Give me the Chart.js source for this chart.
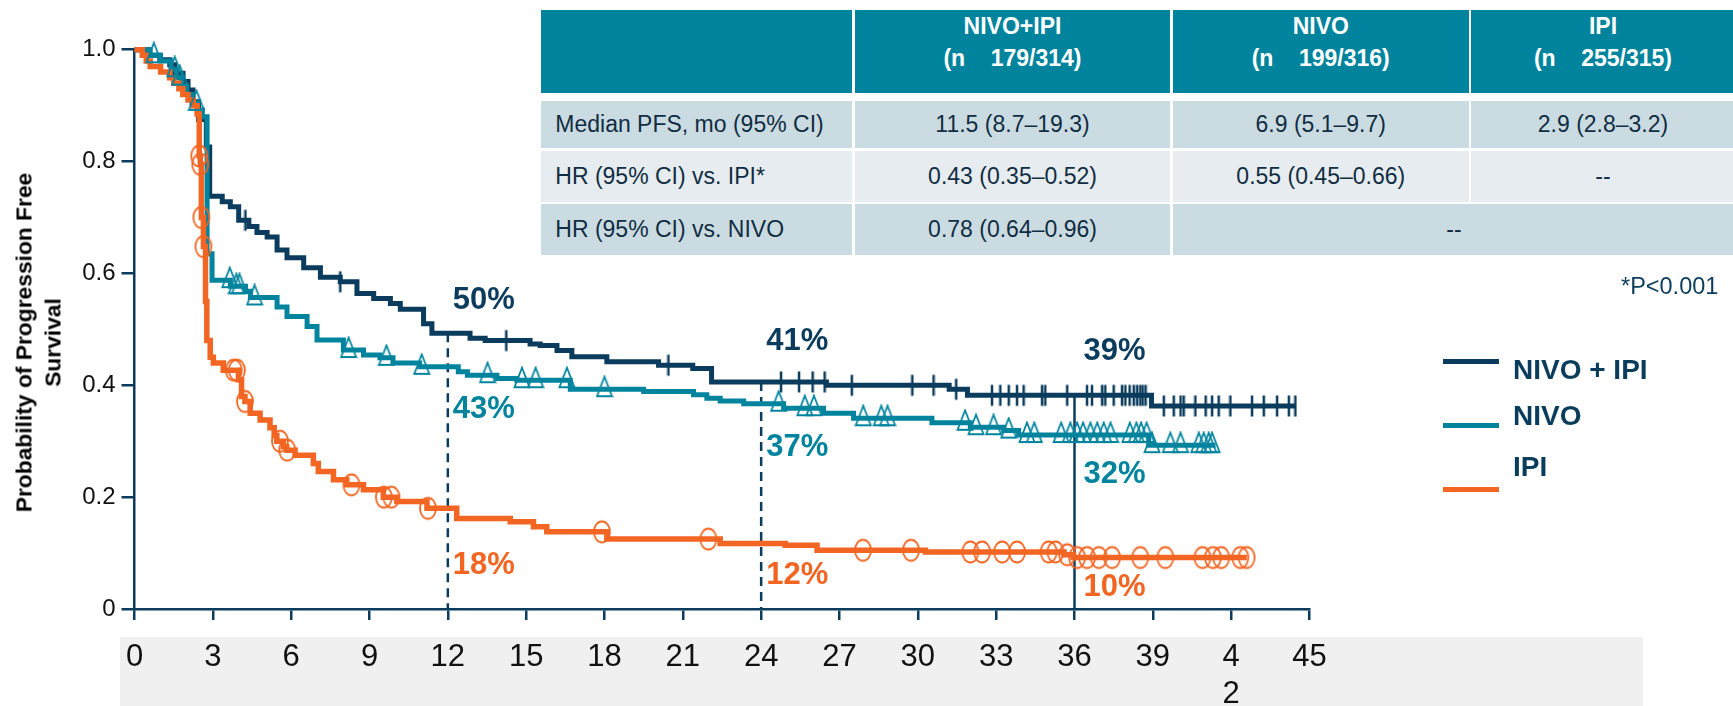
<!DOCTYPE html>
<html>
<head>
<meta charset="utf-8">
<script src="https://cdn.jsdelivr.net/npm/chart.js@4.4.0/dist/chart.umd.min.js"></script>
<style>
html,body{margin:0;padding:0;background:#fff;}
#wrap{position:relative;width:1733px;height:706px;overflow:hidden;font-family:'Liberation Sans',Arial,sans-serif;}
#band{position:absolute;left:120px;top:637px;width:1523px;height:69px;background:#f0f0f0;z-index:0;}
#c{position:absolute;left:0;top:0;z-index:1;}
.cell{position:absolute;box-sizing:border-box;white-space:pre;display:flex;align-items:center;justify-content:center;font-size:23px;color:#112d42;}
.hd{background:#00849e;color:#fff;font-weight:bold;flex-direction:column;justify-content:flex-start;font-size:23px;}
.hd div{line-height:32px;height:32px;}
.r1{background:#cbdbe2;}
.r2{background:#e6ecef;}
.left{justify-content:flex-start;padding-left:14.6px;}
.lgline{position:absolute;height:5px;width:56px;left:1443px;z-index:2;}
.lgtxt{position:absolute;left:1513px;font-size:28px;line-height:28px;font-weight:bold;color:#0a3d5c;white-space:pre;z-index:2;}
#pnote{position:absolute;left:1621px;top:275px;font-size:23.5px;line-height:23.5px;color:#0a3d5c;white-space:pre;z-index:2;}
#ytitle{position:absolute;left:-161.75px;top:314px;width:400px;height:57px;transform:rotate(-90deg);transform-origin:50% 50%;
  text-align:center;font-size:22.8px;line-height:28.5px;font-weight:bold;color:#000;white-space:nowrap;z-index:2;}
</style>
</head>
<body>
<div id="wrap">
  <div id="band"></div>
  <canvas id="c" width="1733" height="706"></canvas>
  <div id="ytitle">Probability of Progression Free<br>Survival</div>

  <!-- table -->
  <div class="cell hd" style="left:540.7px;top:10px;width:311.6px;height:82.7px;"></div>
  <div class="cell hd" style="left:855px;top:10px;width:315px;height:82.7px;"><div>NIVO+IPI</div><div>(n    179/314)</div></div>
  <div class="cell hd" style="left:1173px;top:10px;width:295.5px;height:82.7px;"><div>NIVO</div><div>(n    199/316)</div></div>
  <div class="cell hd" style="left:1471px;top:10px;width:264px;height:82.7px;"><div>IPI</div><div>(n    255/315)</div></div>

  <div class="cell r1 left" style="left:540.7px;top:100.7px;width:311.6px;height:47px;">Median PFS, mo (95% CI)</div>
  <div class="cell r1" style="left:855px;top:100.7px;width:315px;height:47px;">11.5 (8.7–19.3)</div>
  <div class="cell r1" style="left:1173px;top:100.7px;width:295.5px;height:47px;">6.9 (5.1–9.7)</div>
  <div class="cell r1" style="left:1471px;top:100.7px;width:264px;height:47px;">2.9 (2.8–3.2)</div>

  <div class="cell r2 left" style="left:540.7px;top:151px;width:311.6px;height:50.7px;">HR (95% CI) vs. IPI*</div>
  <div class="cell r2" style="left:855px;top:151px;width:315px;height:50.7px;">0.43 (0.35–0.52)</div>
  <div class="cell r2" style="left:1173px;top:151px;width:295.5px;height:50.7px;">0.55 (0.45–0.66)</div>
  <div class="cell r2" style="left:1471px;top:151px;width:264px;height:50.7px;">--</div>

  <div class="cell r1 left" style="left:540.7px;top:204.3px;width:311.6px;height:50.7px;">HR (95% CI) vs. NIVO</div>
  <div class="cell r1" style="left:855px;top:204.3px;width:315px;height:50.7px;">0.78 (0.64–0.96)</div>
  <div class="cell r1" style="left:1173px;top:204.3px;width:562px;height:50.7px;">--</div>

  <div id="pnote">*P&lt;0.001</div>

  <!-- legend -->
  <div class="lgline" style="top:359.3px;background:#0b3c5d;"></div>
  <div class="lgtxt" style="top:356.3px;">NIVO + IPI</div>
  <div class="lgline" style="top:423.3px;background:#00849e;"></div>
  <div class="lgtxt" style="top:402px;">NIVO</div>
  <div class="lgline" style="top:486.5px;background:#f26522;"></div>
  <div class="lgtxt" style="top:453px;">IPI</div>
</div>

<script>
// ---------- data ----------
const xTickLabels = ['0','3','6','9','12','15','18','21','24','27','30','33','36','39',['4','2'],'45'];
const yTickLabels = ['0','0.2','0.4','0.6','0.8','1.0'];

const nivoIpiTime = [0,0.52,0.97,1.35,1.54,1.86,2.05,2.24,2.45,2.75,2.88,3.36,3.67,3.99,4.38,4.69,5.08,5.46,5.84,6.48,7.12,7.88,8.52,9.16,9.8,10.18,11.07,11.39,12.85,13.43,15.15,15.54,16.18,16.75,18.09,20.07,21.38,22.1,26.5,31.2,31.9,38.95,44.46];
const nivoIpiSurv = [1.0,0.99,0.982,0.973,0.958,0.943,0.928,0.907,0.875,0.826,0.738,0.728,0.719,0.695,0.684,0.673,0.665,0.642,0.628,0.61,0.593,0.585,0.564,0.555,0.546,0.536,0.51,0.493,0.484,0.48,0.474,0.471,0.462,0.451,0.442,0.436,0.43,0.406,0.40,0.393,0.382,0.363,0.363];
const nivoIpiCensor = [4.25,7.88,14.24,20.45,24.76,25.45,25.97,26.43,27.47,29.79,30.6,31.47,32.84,33.16,33.48,33.8,34.05,34.76,34.88,35.72,36.48,36.67,37.06,37.18,37.5,37.82,37.95,38.11,38.27,38.4,38.52,38.61,38.72,39.42,39.8,40.06,40.18,40.63,41.02,41.27,41.52,41.97,42.8,43.25,43.76,44.21,44.46];

const nivoTime = [0,0.6,1.0,1.4,1.6,1.8,2.0,2.2,2.4,2.6,2.78,2.97,3.67,4.25,4.44,5.46,5.84,6.61,6.99,8.0,8.77,9.4,9.9,10.92,12.4,12.75,13.88,14.64,16.69,19.5,21.41,21.92,22.43,23.33,24.86,26.39,27.54,30.54,32.01,33.29,33.86,38.84,41.4];
const nivoSurv = [1.0,0.99,0.98,0.965,0.95,0.935,0.92,0.905,0.892,0.88,0.635,0.588,0.577,0.568,0.557,0.54,0.523,0.505,0.481,0.463,0.454,0.449,0.44,0.433,0.424,0.418,0.412,0.409,0.393,0.389,0.383,0.377,0.372,0.367,0.359,0.35,0.341,0.333,0.325,0.319,0.311,0.293,0.293];
const nivoCensor = [0.74,1.54,1.73,2.37,3.65,3.9,4.02,4.6,8.2,9.65,11.0,13.52,14.84,15.36,16.56,18.0,24.67,25.67,26.02,27.91,28.6,28.84,31.81,32.23,32.9,33.48,34.18,34.46,35.49,35.84,36.1,36.33,36.61,36.87,37.12,37.38,38.12,38.37,38.55,38.76,38.97,39.67,40.06,40.76,40.95,41.14,41.27];

const ipiTime = [0,0.3,0.45,0.6,1.0,1.35,1.5,1.7,1.85,2.05,2.25,2.4,2.48,2.52,2.56,2.64,2.72,2.77,2.9,3.02,3.4,3.98,4.1,4.23,4.43,4.81,5.19,5.35,5.45,5.7,5.83,6.15,6.85,7.04,7.62,8.13,8.77,9.53,10.05,11.2,12.34,14.39,15.28,15.79,18.09,22.43,24.92,26.14,30.29,35.6,35.95,42.6];
const ipiSurv = [1.0,0.99,0.98,0.97,0.96,0.95,0.94,0.93,0.92,0.91,0.90,0.885,0.81,0.795,0.70,0.648,0.55,0.48,0.45,0.44,0.427,0.41,0.38,0.371,0.35,0.338,0.324,0.31,0.30,0.29,0.284,0.275,0.26,0.246,0.231,0.222,0.213,0.2,0.192,0.18,0.162,0.156,0.147,0.138,0.125,0.117,0.114,0.105,0.102,0.097,0.092,0.092];
const ipiCensor = [2.48,2.52,2.56,2.64,3.8,3.92,4.23,5.57,5.85,8.31,9.55,9.84,11.24,17.9,21.98,27.9,29.74,32.01,32.46,33.23,33.8,35.01,35.27,35.72,36.1,36.48,36.93,37.44,38.52,39.48,40.9,41.3,41.62,42.35,42.59];

// ---------- styling / annotations ----------
const NAVY = '#0b3c5d', TEAL = '#00849e', ORANGE = '#f26522';
const refLines = [{t:12, dash:[9,6]}, {t:24, dash:[9,6]}, {t:36, dash:[]}];
const pctLabels = [
  {t:12, s:0.551, text:'50%', color:NAVY, dx:5},
  {t:12, s:0.356, text:'43%', color:TEAL, dx:5},
  {t:12, s:0.078, text:'18%', color:ORANGE, dx:5},
  {t:24, s:0.479, text:'41%', color:NAVY, dx:5},
  {t:24, s:0.288, text:'37%', color:TEAL, dx:5},
  {t:24, s:0.060, text:'12%', color:ORANGE, dx:5},
  {t:36, s:0.460, text:'39%', color:NAVY, dx:9},
  {t:36, s:0.240, text:'32%', color:TEAL, dx:9},
  {t:36, s:0.039, text:'10%', color:ORANGE, dx:9}
];

function steps(times, surv){ return times.map((t,i)=>({x:t, y:surv[i]})); }
function survAt(times, surv, t){
  let v = surv[0];
  for (let i=0;i<times.length;i++){ if (times[i] <= t + 1e-9) v = surv[i]; else break; }
  return v;
}
function censorPts(ct, times, surv){ return ct.map(t=>({x:t, y:survAt(times, surv, t)})); }

function makeTri(){
  const c = document.createElement('canvas'); c.width = 18; c.height = 28;
  const g = c.getContext('2d'); g.strokeStyle = TEAL; g.lineWidth = 1.8;
  g.beginPath(); g.moveTo(9,1.5); g.lineTo(16.5,21); g.lineTo(1.5,21); g.closePath(); g.stroke();
  return c;
}
function makeCirc(){
  const c = document.createElement('canvas'); c.width = 20; c.height = 26;
  const g = c.getContext('2d'); g.strokeStyle = ORANGE; g.lineWidth = 1.8;
  g.beginPath(); g.ellipse(10,13,8,10.5,0,0,Math.PI*2); g.stroke();
  return c;
}
function makeTick(){
  const c = document.createElement('canvas'); c.width = 4; c.height = 24;
  const g = c.getContext('2d'); g.fillStyle = NAVY; g.fillRect(0.75,1.5,2.5,21);
  return c;
}

const annotPlugin = {
  id: 'annot',
  beforeDatasetsDraw(chart){
    const {ctx, scales:{x, y}} = chart;
    refLines.forEach(r=>{
      const top = survAt(nivoIpiTime, nivoIpiSurv, r.t);
      const px = x.getPixelForValue(r.t);
      ctx.save();
      ctx.strokeStyle = NAVY; ctx.lineWidth = 2.5; ctx.setLineDash(r.dash);
      ctx.beginPath(); ctx.moveTo(px, y.getPixelForValue(top)); ctx.lineTo(px, y.getPixelForValue(0)); ctx.stroke();
      ctx.restore();
    });
  },
  afterDatasetsDraw(chart){
    const {ctx, scales:{x, y}} = chart;
    ctx.save();
    ctx.font = "bold 31px 'Liberation Sans', Arial, sans-serif";
    ctx.textAlign = 'left'; ctx.textBaseline = 'middle';
    pctLabels.forEach(l=>{
      ctx.fillStyle = l.color;
      ctx.fillText(l.text, x.getPixelForValue(l.t) + l.dx, y.getPixelForValue(l.s));
    });
    ctx.restore();
  }
};

Chart.defaults.font.family = "'Liberation Sans', Arial, sans-serif";

new Chart(document.getElementById('c'), {
  type: 'line',
  data: {
    datasets: [
      {label:'IPI censored', data: censorPts(ipiCensor, ipiTime, ipiSurv), showLine:false, pointStyle: makeCirc(), pointRadius:5, order:0, clip:false},
      {label:'NIVO censored', data: censorPts(nivoCensor, nivoTime, nivoSurv), showLine:false, pointStyle: makeTri(), pointRadius:5, order:1, clip:false},
      {label:'NIVO + IPI censored', data: censorPts(nivoIpiCensor, nivoIpiTime, nivoIpiSurv), showLine:false, pointStyle: makeTick(), pointRadius:5, order:2, clip:false},
      {label:'IPI', data: steps(ipiTime, ipiSurv), stepped:true, borderColor:ORANGE, borderWidth:5.5, pointRadius:0, fill:false, order:3, clip:false},
      {label:'NIVO', data: steps(nivoTime, nivoSurv), stepped:true, borderColor:TEAL, borderWidth:5, pointRadius:0, fill:false, order:4, clip:false},
      {label:'NIVO + IPI', data: steps(nivoIpiTime, nivoIpiSurv), stepped:true, borderColor:NAVY, borderWidth:5, pointRadius:0, fill:false, order:5, clip:false}
    ]
  },
  options: {
    responsive: false,
    devicePixelRatio: 1,
    animation: false,
    events: [],
    layout: { padding: {left:0, top:49.7, right:423.5, bottom:0} },
    plugins: { legend:{display:false}, tooltip:{enabled:false}, title:{display:false} },
    scales: {
      x: {
        type:'linear', min:0, max:45,
        afterFit(s){ s.height = 97; },
        ticks: { stepSize:3, autoSkip:false, maxRotation:0, minRotation:0, padding:19, color:'#111',
                 font:{size:31}, callback:(v,i)=> xTickLabels[i] },
        grid: { display:true, drawOnChartArea:false, drawTicks:true, tickLength:11, color:NAVY, lineWidth:2.5 },
        border: { display:true, color:NAVY, width:2.5 }
      },
      y: {
        type:'linear', min:0, max:1,
        afterFit(s){ s.width = 134.5; },
        ticks: { stepSize:0.2, padding:6, color:'#111', font:{size:24}, callback:(v,i)=> yTickLabels[i] },
        grid: { display:true, drawOnChartArea:false, drawTicks:true, tickLength:13, color:NAVY, lineWidth:2.5 },
        border: { display:true, color:NAVY, width:2.5 },
        title: { display:false }
      }
    }
  },
  plugins: [annotPlugin]
});
</script>
</body>
</html>
